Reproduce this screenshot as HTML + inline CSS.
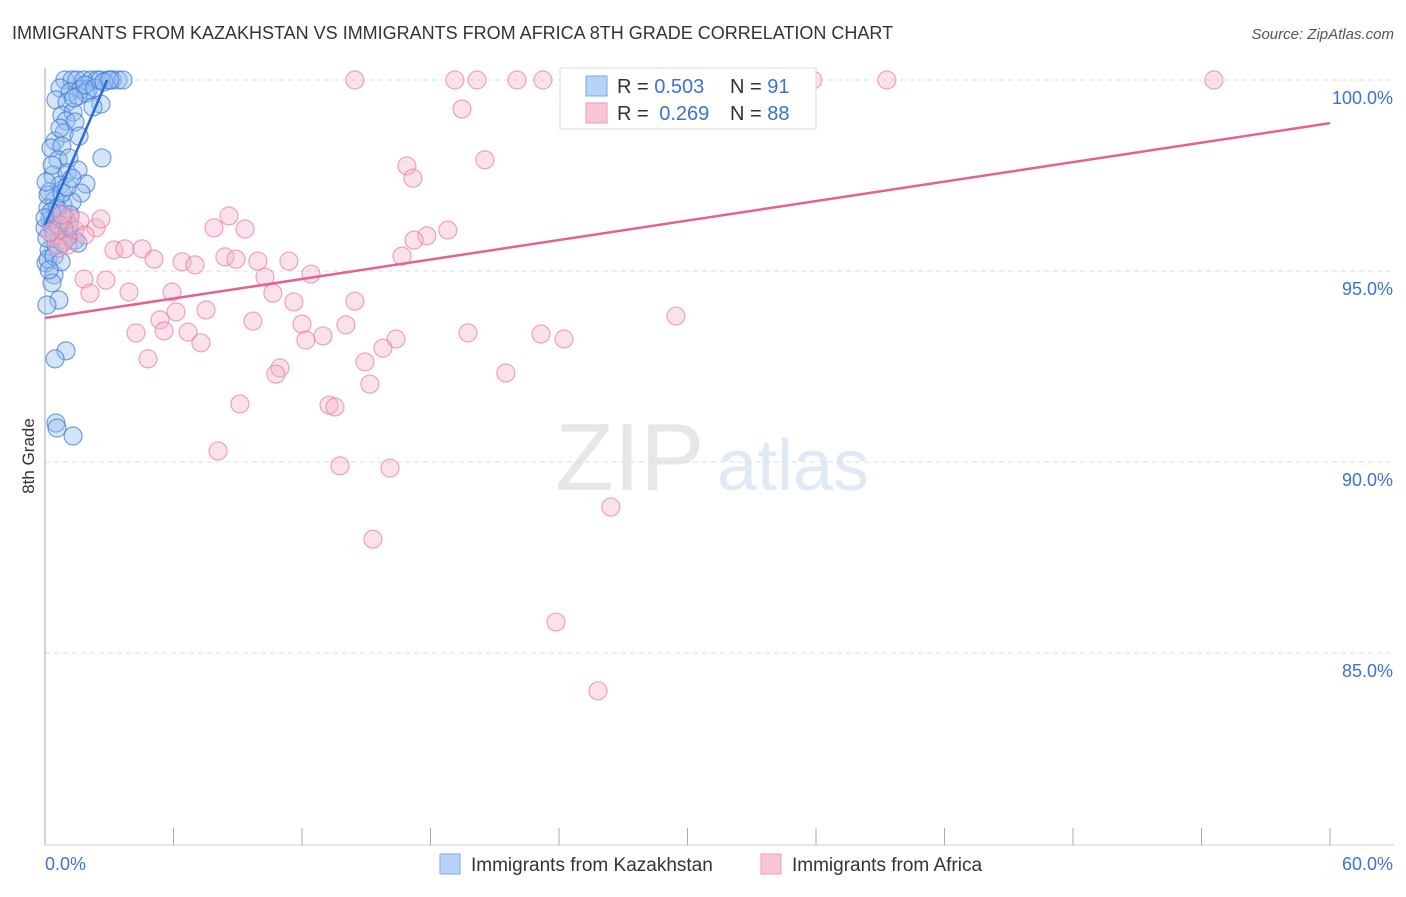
<!DOCTYPE html>
<html><head><meta charset="utf-8"><style>
body{margin:0;background:#fff;font-family:"Liberation Sans",sans-serif;}
svg text{font-family:"Liberation Sans",sans-serif;}
</style></head><body>
<svg id="chart" width="1406" height="892" xmlns="http://www.w3.org/2000/svg">
<text x="12" y="39" font-size="18" fill="#333">IMMIGRANTS FROM KAZAKHSTAN VS IMMIGRANTS FROM AFRICA 8TH GRADE CORRELATION CHART</text>
<text x="1394" y="39" font-size="15" fill="#555" text-anchor="end" font-style="italic">Source: ZipAtlas.com</text>
<text transform="translate(34,456) rotate(-90)" font-size="17" fill="#333" text-anchor="middle">8th Grade</text>
<g opacity="0.35">
<text x="555" y="490" font-size="96" fill="#bbb" font-family="Liberation Serif">ZIP</text>
<text x="717" y="490" font-size="72" fill="#a9c5ea">atlas</text>
</g>
<g id="grid"></g><g id="axes"></g><g id="pts"></g><g id="trend"></g>
<g>
<rect x="560" y="68" width="256" height="61" fill="#fff" stroke="#ddd"/>
<rect x="586" y="76" width="21" height="20" fill="#b8d3f5" stroke="#7aa8e8"/>
<text x="617" y="93" font-size="20" fill="#333">R = <tspan fill="#3a74d0">0.503</tspan><tspan x="730">N = </tspan><tspan fill="#3a74d0">91</tspan></text>
<rect x="586" y="103" width="21" height="20" fill="#f9c4d4" stroke="#ee9bb5"/>
<text x="617" y="120" font-size="20" fill="#333">R = <tspan fill="#3a74d0" dx="5">0.269</tspan><tspan x="730">N = </tspan><tspan fill="#3a74d0">88</tspan></text>
</g>
<g>
<rect x="440" y="854" width="20" height="20" fill="#b8d3f5" stroke="#7aa8e8"/>
<text x="471" y="871" font-size="19" fill="#333">Immigrants from Kazakhstan</text>
<rect x="761" y="854" width="20" height="20" fill="#f9c4d4" stroke="#ee9bb5"/>
<text x="792" y="871" font-size="19" fill="#333">Immigrants from Africa</text>
</g>
</svg>
<script>
const blueX=[0.93,1.26,1.49,1.82,2.15,2.43,2.94,3.13,3.41,3.64,0.70,1.17,1.68,2.01,0.51,1.03,1.54,1.91,2.61,0.79,1.31,0.98,1.40,2.24,0.89,1.59,0.47,0.28,0.79,0.61,1.12,2.66,0.37,1.03,1.54,0.70,0.19,1.91,1.68,0.47,0.14,0.84,1.26,0.23,0.56,0.98,0,0.37,0.70,1.40,1.54,0.19,0.51,1.07,0.05,0.42,0.33,0.65,0.09,0.14,0.98,0.47,0.51,0.56,1.31,0.09,0.33,0.89,1.17,0.61,0.14,0.05,0.33,0.70,1.35,1.87,2.33,2.57,2.75,3.03,0.56,0.79,0.28,0,1.03,1.26,0.42,0.75,0.19,0.84,1.12];
const blueY=[100,100,100,100,100,100,100,100,100,100,99.79,99.69,99.76,99.74,99.48,99.42,99.58,99.66,99.37,99.08,99.16,98.93,98.90,99.29,98.61,98.53,98.40,98.22,98.27,97.91,97.96,97.96,97.51,97.57,97.64,97.25,97.07,97.28,97.04,96.86,96.65,96.73,96.81,96.34,96.52,96.36,96.13,96.07,95.92,95.81,95.73,95.55,95.68,95.89,95.21,94.90,94.69,94.24,94.11,95.31,92.91,92.70,91.02,90.89,90.68,95.86,96.20,96.10,96.47,96.20,96.99,97.33,97.77,98.74,99.53,99.87,99.79,100,99.95,100,96.65,97.04,96.54,96.39,97.20,97.43,95.39,95.24,95.03,95.73,96.18];
const pinkX=[14.47,19.14,20.17,22.04,23.25,24.84,33.15,35.85,39.31,54.58,19.47,20.54,16.90,17.18,8.59,7.89,9.34,2.38,2.61,1.17,18.81,17.83,17.23,16.67,3.22,3.73,4.53,5.09,6.40,7.00,8.40,8.92,9.94,11.39,12.42,10.27,1.82,2.85,2.10,3.92,5.93,10.64,11.62,14.47,7.52,6.12,5.37,9.71,12.00,14.05,4.25,5.56,6.68,12.98,12.18,16.39,19.75,23.16,24.23,29.46,7.28,15.78,4.81,14.94,10.97,10.78,21.52,15.17,9.10,13.26,13.54,8.08,13.77,16.11,26.42,15.31,23.86,25.82,0.70,0.93,0.47,1.40,1.63,0.79,0.23,1.07,1.87,0.61];
const pinkY=[100,100,100,100,100,100,100,100,100,100,99.24,97.91,97.75,97.43,96.44,96.13,96.10,96.13,96.36,96.39,96.07,95.92,95.81,95.39,95.55,95.58,95.58,95.31,95.24,95.16,95.37,95.31,95.26,95.26,94.92,94.84,94.79,94.76,94.42,94.45,94.45,94.42,94.19,94.21,93.98,93.93,93.72,93.69,93.61,93.59,93.38,93.43,93.40,93.30,93.19,93.22,93.38,93.35,93.22,93.82,93.12,92.98,92.70,92.62,92.46,92.30,92.33,92.04,91.52,91.49,91.44,90.29,89.90,89.84,88.82,87.98,85.81,84.01,96.20,95.81,95.92,96.07,96.31,96.47,96.02,95.68,95.94,95.60];
const blueTrendX=[0,2.9];
const blueTrendY=[96.2,100];
const pinkTrendX=[0,60];
const pinkTrendY=[93.77,98.87];
const yTicks=[100,95,90,85];
const yTickLabels=["100.0%","95.0%","90.0%","85.0%"];
const xTicks=[0,6,12,18,24,30,36,42,48,54,60];

const NS="http://www.w3.org/2000/svg";
const X=v=>45+v*(1285/60);
const Y=v=>80+(100-v)*38.2;
function mk(tag,attrs,parent){const e=document.createElementNS(NS,tag);for(const k in attrs)e.setAttribute(k,attrs[k]);parent.appendChild(e);return e;}
const grid=document.getElementById('grid'),axes=document.getElementById('axes'),pts=document.getElementById('pts'),trend=document.getElementById('trend');
yTicks.forEach((t,i)=>{
  const l=mk('line',{x1:45,x2:1394,y1:Y(t),y2:Y(t),stroke:'#ddd','stroke-dasharray':'5,4'},grid);
  
  
  const tx=mk('text',{x:1393,y:Y(t)+24,'font-size':18,fill:'#3a74d0','text-anchor':'end'},grid);
  tx.textContent=yTickLabels[i];
  
  
});
const ya=mk('line',{x1:45,x2:45,y1:68,y2:845,stroke:'#aaa'},axes);


const xa=mk('line',{x1:45,x2:1394,y1:845,y2:845,stroke:'#ccc'},axes);


xTicks.forEach(t=>{
  const l=mk('line',{x1:X(t),x2:X(t),y1:828,y2:845,stroke:'#aaa'},axes);
  
  
});
const xl0=mk('text',{x:45,y:870,'font-size':18,fill:'#3a74d0'},axes);xl0.textContent=xTicks[0].toFixed(1)+'%';


const xl1=mk('text',{x:1393,y:870,'font-size':18,fill:'#3a74d0','text-anchor':'end'},axes);xl1.textContent=xTicks[xTicks.length-1].toFixed(1)+'%';


blueX.forEach((x,i)=>{
  const c=mk('circle',{cx:X(x),cy:Y(blueY[i]),r:9,fill:'rgba(150,190,240,0.4)',stroke:'rgba(60,120,215,0.7)','stroke-width':1.2},pts);
  
  
});
pinkX.forEach((x,i)=>{
  const c=mk('circle',{cx:X(x),cy:Y(pinkY[i]),r:9,fill:'rgba(246,180,200,0.4)',stroke:'rgba(230,120,155,0.65)','stroke-width':1.2},pts);
  
  
});
const bt=mk('line',{x1:X(blueTrendX[0]),y1:Y(blueTrendY[0]),x2:X(blueTrendX[1]),y2:Y(blueTrendY[1]),stroke:'#2a6ad8','stroke-width':2.5},trend);


const pt=mk('line',{x1:X(pinkTrendX[0]),y1:Y(pinkTrendY[0]),x2:X(pinkTrendX[1]),y2:Y(pinkTrendY[1]),stroke:'#e5628c','stroke-width':2.5},trend);


</script>
</body></html>
